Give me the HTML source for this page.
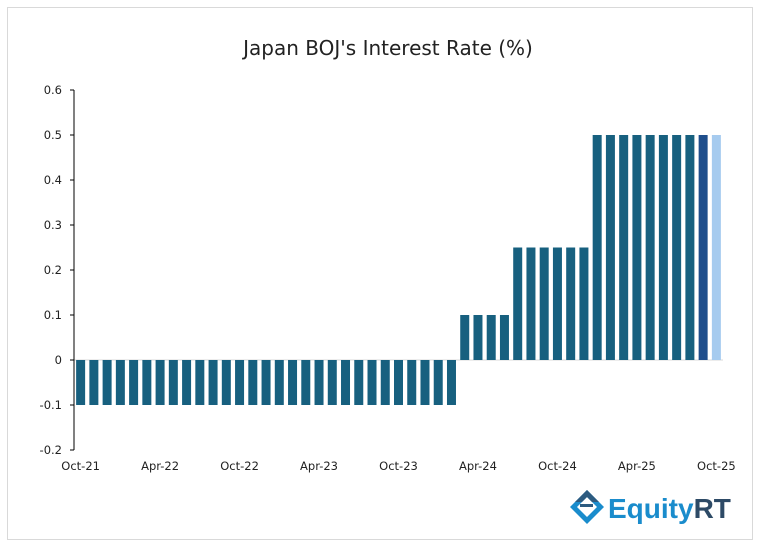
<!DOCTYPE html>
<html><head><meta charset="utf-8"><style>
body{margin:0;background:#fff;width:761px;height:546px;overflow:hidden}
svg text{font-family:"DejaVu Sans","Liberation Sans",sans-serif;fill:#222}
</style></head><body>
<svg id="chart" width="761" height="546" xmlns="http://www.w3.org/2000/svg">
<rect x="7.5" y="7.5" width="745" height="532" fill="#fff" stroke="#d9d9d9"/>
<text x="388" y="55" text-anchor="middle" font-size="20">Japan BOJ's Interest Rate (%)</text>
<g id="plot"></g>
<g>
<g transform="translate(587,507)">
<polygon points="0,-17 17,0 0,17 -17,0" fill="#1a8ccc"/>
<polygon points="0,-10 10,0 0,10 -10,0" fill="#fff"/>
<polygon points="-12,-5 0,-17 12,-5 5,-5 0,-10 -5,-5" fill="#2d5b80"/>
<rect x="-7" y="-3" width="13" height="3" fill="#2d5b80"/>
</g>
<text x="608" y="518" font-size="28" font-weight="bold" style="fill:#1a8ccc;font-family:'Liberation Sans',sans-serif">Equity<tspan style="fill:#2d4a66">RT</tspan></text>
</g>
</svg>
<script>
const categories=["Oct-21","Nov-21","Dec-21","Jan-22","Feb-22","Mar-22","Apr-22","May-22","Jun-22","Jul-22","Aug-22","Sep-22","Oct-22","Nov-22","Dec-22","Jan-23","Feb-23","Mar-23","Apr-23","May-23","Jun-23","Jul-23","Aug-23","Sep-23","Oct-23","Nov-23","Dec-23","Jan-24","Feb-24","Mar-24","Apr-24","May-24","Jun-24","Jul-24","Aug-24","Sep-24","Oct-24","Nov-24","Dec-24","Jan-25","Feb-25","Mar-25","Apr-25","May-25","Jun-25","Jul-25","Aug-25","Sep-25","Oct-25"];
const values=[-0.1,-0.1,-0.1,-0.1,-0.1,-0.1,-0.1,-0.1,-0.1,-0.1,-0.1,-0.1,-0.1,-0.1,-0.1,-0.1,-0.1,-0.1,-0.1,-0.1,-0.1,-0.1,-0.1,-0.1,-0.1,-0.1,-0.1,-0.1,-0.1,0.1,0.1,0.1,0.1,0.25,0.25,0.25,0.25,0.25,0.25,0.5,0.5,0.5,0.5,0.5,0.5,0.5,0.5,0.5,0.5];
const yTicks=[-0.2,-0.1,0,0.1,0.2,0.3,0.4,0.5,0.6];
const xLabels=["Oct-21","Apr-22","Oct-22","Apr-23","Oct-23","Apr-24","Oct-24","Apr-25","Oct-25"];
const NS="http://www.w3.org/2000/svg";
const g=document.getElementById('plot');
const X0=74,X1=723,Y0=450,Y1=90,ymin=-0.2,ymax=0.6;
const bw=(X1-X0)/categories.length;
const y=v=>Y0-(v-ymin)/(ymax-ymin)*(Y0-Y1);
const xc=i=>X0+bw*(i+0.5);
function mk(t,a){const e=document.createElementNS(NS,t);for(const k in a)e.setAttribute(k,a[k]);g.appendChild(e);return e;}
const zl=mk('line',{x1:X0,x2:X1,y1:y(0),y2:y(0),stroke:'#d9d9d9'});


values.forEach((v,i)=>{
 const col=i===values.length-1?'#a6cbef':(i===values.length-2?'#1f4e8c':'#17607f');
 const r=mk('rect',{x:xc(i)-4.5,width:9,y:Math.min(y(v),y(0)),height:Math.abs(y(v)-y(0)),fill:col});
 
 
});
const ax=mk('line',{x1:X0,x2:X0,y1:Y1,y2:Y0,stroke:'#000'});


yTicks.forEach(t=>{
 const tk=mk('line',{x1:X0-4,x2:X0,y1:y(t),y2:y(t),stroke:'#000'});
 
 
 const tx=mk('text',{x:X0-12,y:y(t)+4,'text-anchor':'end','font-size':'11.5'});
 tx.textContent=String(t);
 
 
});
xLabels.forEach(l=>{
 const i=categories.indexOf(l);
 const tx=mk('text',{x:xc(i),y:470,'text-anchor':'middle','font-size':'11.5'});
 tx.textContent=l;
 
 
});
</script>
</body></html>
